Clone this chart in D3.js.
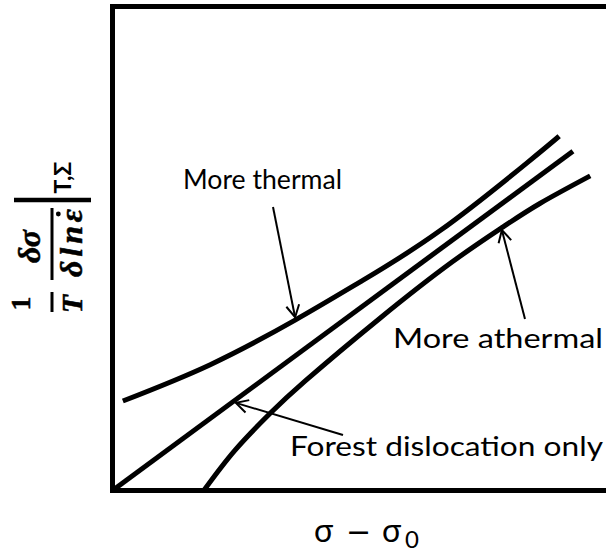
<!DOCTYPE html>
<html>
<head>
<meta charset="utf-8">
<script src="https://cdn.jsdelivr.net/npm/d3@7"></script>
<style>
  html, body { margin: 0; padding: 0; background: #fff; }
  svg { display: block; }
</style>
</head>
<body>
<script>
// Normalised curves: x = σ − σ0, y = (1/T)(δσ/δlnε̇) at fixed T, Σ (0–100 units)
const thermalX  = [2.1, 19.8, 37.0, 50.2, 66.4, 84.0, 90.5];
const thermalY  = [18.5, 26.0, 35.2, 43.1, 53.7, 67.7, 73.2];
const forestX   = [0, 93.3];
const forestY   = [0, 70.1];
const athermalX = [18.5, 24.8, 31.9, 39.0, 54.2, 68.8, 78.9, 86.6, 96.8];
const athermalY = [0, 8.3, 15.9, 22.6, 35.6, 47.2, 54.3, 59.3, 65.0];

// Annotations: label text and the curve point each arrow points at
const labelTexts = ["More thermal", "Forest dislocation only", "More athermal"];
const arrowTipX  = [37.0, 25.0, 78.9];
const arrowTipY  = [35.8, 18.1, 53.8];

const W = 606, H = 553;
const plot = { left: 112.5, right: 606, top: 6.5, bottom: 490.5 };

// label placement (pixels) and arrow tails
const labelLayout = [
  { x: 183, y: 189, len: 159, tail: [273, 207] },
  { x: 290, y: 456, len: 313, tail: [343, 435] },
  { x: 393, y: 348, len: 210, tail: [525, 319] }
];

const x = d3.scaleLinear().domain([0, 100]).range([plot.left, plot.right]);
const y = d3.scaleLinear().domain([0, 100]).range([plot.bottom, plot.top]);

const svg = d3.select("body").append("svg")
  .attr("width", W).attr("height", H)
  .attr("viewBox", `0 0 ${W} ${H}`);

// arrowhead: open chevron
svg.append("defs").append("marker")
  .attr("id", "chev")
  .attr("markerUnits", "userSpaceOnUse")
  .attr("viewBox", "-14 -8 16 16")
  .attr("refX", 0).attr("refY", 0)
  .attr("markerWidth", 16).attr("markerHeight", 16)
  .attr("orient", "auto")
  .append("path")
  .attr("d", "M-12,-6.5 L0,0 L-12,6.5")
  .attr("fill", "none")
  .attr("stroke", "#000")
  .attr("stroke-width", 2);

// frame: left, top and bottom edges (open on the right)
svg.append("path")
  .attr("d", `M${x(100)},${y(100)} H${x(0)} V${y(0)} H${x(100)}`)
  .attr("fill", "none")
  .attr("stroke", "#000")
  .attr("stroke-width", 5);

const line = d3.line()
  .x(d => x(d[0]))
  .y(d => y(d[1]))
  .curve(d3.curveNatural);

const series = [
  d3.zip(thermalX, thermalY),
  d3.zip(forestX, forestY),
  d3.zip(athermalX, athermalY)
];

svg.append("g").selectAll("path")
  .data(series)
  .join("path")
  .attr("d", line)
  .attr("fill", "none")
  .attr("stroke", "#000")
  .attr("stroke-width", 5);

// annotation arrows
svg.append("g").selectAll("line")
  .data(labelLayout)
  .join("line")
  .attr("x1", d => d.tail[0])
  .attr("y1", d => d.tail[1])
  .attr("x2", (d, i) => x(arrowTipX[i]))
  .attr("y2", (d, i) => y(arrowTipY[i]))
  .attr("stroke", "#000")
  .attr("stroke-width", 2)
  .attr("marker-end", "url(#chev)");

// annotation labels
svg.append("g").selectAll("text")
  .data(labelLayout)
  .join("text")
  .attr("x", d => d.x)
  .attr("y", d => d.y)
  .attr("textLength", d => d.len)
  .attr("lengthAdjust", "spacingAndGlyphs")
  .attr("font-family", "Lato, 'Open Sans', sans-serif")
  .attr("font-size", 27)
  .attr("fill", "#000")
  .text((d, i) => labelTexts[i]);

// x-axis title: σ − σ0
const xt = svg.append("text")
  .attr("y", 542)
  .attr("font-family", "Lato, 'Open Sans', sans-serif")
  .attr("font-size", 32)
  .attr("fill", "#000");
xt.append("tspan").attr("x", 314).text("σ");
xt.append("tspan").attr("x", 346).attr("font-family", "'DejaVu Sans', sans-serif")
  .attr("font-size", 30).text("−");
xt.append("tspan").attr("x", 382).text("σ");
xt.append("tspan").attr("x", 405).attr("dy", 6).attr("font-size", 24).text("0");

// y-axis title: (1/T)(δσ/δlnε̇) evaluated at T, Σ — drawn rotated
const yl = svg.append("g").attr("transform", "translate(52,250) rotate(-90)");
const serif = "'Liberation Serif', 'DejaVu Serif', serif";
function mathText(str, cx, base, opts = {}) {
  const t = yl.append("text")
    .attr("x", cx).attr("y", base)
    .attr("text-anchor", "middle")
    .attr("font-family", opts.family || serif)
    .attr("font-weight", "bold")
    .attr("font-style", opts.italic === false ? "normal" : "italic")
    .attr("font-size", opts.size || 32)
    .attr("fill", "#000")
    .attr("stroke", "#000")
    .attr("stroke-width", opts.family ? 0 : 0.5)
    .text(str);
  if (opts.len) t.attr("textLength", opts.len).attr("lengthAdjust", "spacing");
  return t;
}
function bar(x1, x2, yy, w) {
  yl.append("line")
    .attr("x1", x1).attr("x2", x2).attr("y1", yy).attr("y2", yy)
    .attr("stroke", "#000").attr("stroke-width", w);
}
mathText("1", -53.5, -22, { italic: false, size: 28 });
bar(-62, -42, 0, 3);
mathText("T", -54, 30, { size: 30 });
mathText("δσ", 3.5, -12, { len: 33 });
bar(-30, 42, 0, 3);
const den = mathText("δlnε", 7, 30, { len: 68 });
// dot over ε (time derivative)
const eps = den.node().getExtentOfChar(3);
yl.append("circle")
  .attr("cx", eps.x + eps.width * 0.62)
  .attr("cy", 30 - 32 * 0.74)
  .attr("r", 2.4)
  .attr("fill", "#000");
// evaluation bar and subscript
yl.append("line")
  .attr("x1", 50).attr("x2", 50).attr("y1", -38).attr("y2", 39)
  .attr("stroke", "#000").attr("stroke-width", 4.5);
mathText("T,Σ", 72.5, 19, { italic: false, size: 23, family: "Lato, 'Open Sans', sans-serif" });
</script>
</body>
</html>
